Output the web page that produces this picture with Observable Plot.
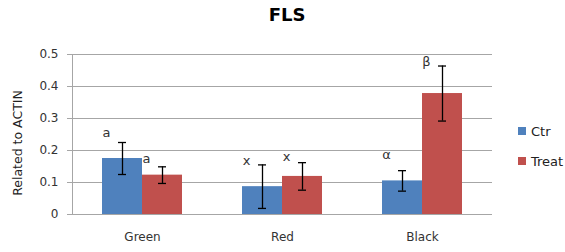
<!DOCTYPE html>
<html>
<head>
<meta charset="utf-8">
<script src="https://cdn.jsdelivr.net/npm/d3@7"></script>
<script src="https://cdn.jsdelivr.net/npm/@observablehq/plot@0.6"></script>
<style>
  html, body { margin: 0; padding: 0; background: #fff; }
  #wrap { position: relative; width: 565px; height: 252px; font-family: "DejaVu Sans", sans-serif; }
  #title { position: absolute; left: 0; width: 574px; top: 4px; text-align: center; font-weight: bold; font-size: 18px; color: #000; z-index: 2; }
  #ylabel { position: absolute; left: 17px; top: 143px; transform: translate(-50%, -50%) rotate(-90deg); white-space: nowrap; font-size: 12.5px; color: #222; z-index: 2; }
  #legend { position: absolute; left: 518px; top: 116px; font-size: 13px; color: #222; z-index: 2; }
  .li { display: flex; align-items: center; height: 30px; }
  .sw { width: 8px; height: 8px; margin-right: 5px; }
</style>
</head>
<body>
<div id="wrap">
  <div id="title">FLS</div>
  <div id="ylabel">Related to ACTIN</div>
  <div id="legend"></div>
</div>
<script>
const categories = ["Green", "Red", "Black"];
const seriesNames = ["Ctr", "Treat"];
const seriesColors = ["#4F81BD", "#C0504D"];
const ctrValues = [0.175, 0.087, 0.105];
const treatValues = [0.123, 0.119, 0.378];
const ctrErrors = [0.050, 0.068, 0.032];
const treatErrors = [0.026, 0.043, 0.086];
const ctrLetters = ["a", "x", "α"];
const treatLetters = ["a", "x", "β"];
const ctrLetterY = [0.255, 0.168, 0.188];
const treatLetterY = [0.174, 0.181, 0.478];
const yTicks = [0, 0.1, 0.2, 0.3, 0.4, 0.5];
const yTickLabels = ["0", "0.1", "0.2", "0.3", "0.4", "0.5"];

const rows = [];
categories.forEach((c, i) => {
  rows.push({cat: c, series: "Ctr", value: ctrValues[i], err: ctrErrors[i], letter: ctrLetters[i], ly: ctrLetterY[i]});
  rows.push({cat: c, series: "Treat", value: treatValues[i], err: treatErrors[i], letter: treatLetters[i], ly: treatLetterY[i]});
});

const grid = "#A6A6A6";
const chart = Plot.plot({
  width: 565,
  height: 252,
  marginTop: 54,
  marginBottom: 38,
  marginLeft: 72,
  marginRight: 73,
  style: {fontFamily: "DejaVu Sans, sans-serif", fontSize: "12px", color: "#333", background: "transparent"},
  fx: {domain: categories, padding: 0, label: null},
  x: {domain: seriesNames, paddingInner: 0, paddingOuter: 0.75, axis: null},
  y: {domain: [0, 0.5], label: null},
  color: {domain: seriesNames, range: seriesColors},
  marks: [
    Plot.gridY(yTicks, {stroke: grid, strokeOpacity: 1}),
    Plot.frame({anchor: "left", stroke: grid, facetAnchor: "left"}),
    Plot.axisY(yTicks, {tickSize: 5, tickPadding: 9, stroke: grid, tickFormat: (d) => yTickLabels[yTicks.indexOf(d)], label: null, fontSize: 12}),
    Plot.axisFx({anchor: "bottom", tickSize: 0, tickPadding: 18, label: null, fontSize: 12}),
    Plot.barY(rows, {fx: "cat", x: "series", y: "value", fill: "series"}),
    Plot.ruleX(rows, {fx: "cat", x: "series", y1: d => d.value - d.err, y2: d => d.value + d.err, stroke: "#000", strokeWidth: 1.3}),
    Plot.tickY(rows, {fx: "cat", x: "series", y: d => d.value + d.err, stroke: "#000", strokeWidth: 1.3, insetLeft: 16, insetRight: 16}),
    Plot.tickY(rows, {fx: "cat", x: "series", y: d => d.value - d.err, stroke: "#000", strokeWidth: 1.3, insetLeft: 16, insetRight: 16}),
    Plot.text(rows, {fx: "cat", x: "series", y: "ly", text: "letter", dx: -16, fill: "#333", fontSize: 13, lineAnchor: "middle"})
  ]
});
document.getElementById("wrap").appendChild(chart);
chart.style.position = "absolute";
chart.style.left = "0";
chart.style.top = "0";

const legend = document.getElementById("legend");
seriesNames.forEach((s, i) => {
  const row = document.createElement("div");
  row.className = "li";
  const sw = document.createElement("div");
  sw.className = "sw";
  sw.style.background = seriesColors[i];
  const t = document.createElement("span");
  t.textContent = s;
  row.appendChild(sw);
  row.appendChild(t);
  legend.appendChild(row);
});
</script>
</body>
</html>
